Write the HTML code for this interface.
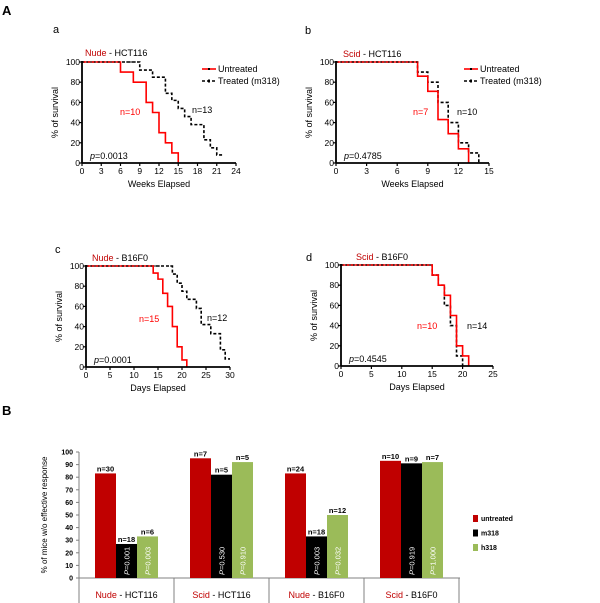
<!DOCTYPE html>
<html><head><meta charset="utf-8">
<style>
body{margin:0;background:#fff;}
svg{display:block;font-family:"Liberation Sans",sans-serif;}
</style></head>
<body>
<svg id="fig" width="600" height="603" viewBox="0 0 600 603">
<text x="2" y="15" font-size="13" font-weight="bold">A</text>
<text x="2" y="415" font-size="13" font-weight="bold">B</text>
<g id="surv"></g>
<g id="bars"></g>
</svg>
<script>
// ---- survival data ----
const aRedX=[0,6,8,10,11,12,13,14,15];
const aRedY=[100,90,80,60,50,30,20,10,0];
const aBlkX=[0,9,11,13,14,15,16,17,19,20,21,22];
const aBlkY=[100,92,85,69,62,54,46,38,23,15,8,8];
const bRedX=[0,8,9,10,11,12,13];
const bRedY=[100,86,71,43,29,14,0];
const bBlkX=[0,8,9,10,11,12,13,14];
const bBlkY=[100,90,80,60,40,20,10,0];
const cRedX=[0,14,15,16,17,18,19,20,21];
const cRedY=[100,93,87,73,60,40,20,7,0];
const cBlkX=[0,18,19,20,21,23,24,26,28,29,30];
const cBlkY=[100,92,83,75,67,58,42,33,17,8,8];
const dRedX=[0,15,16,17,18,19,20,21];
const dRedY=[100,90,80,70,50,20,10,0];
const dBlkX=[0,15,16,17,18,19,20];
const dBlkY=[100,90,80,60,40,10,0];
const aTicks=[0,3,6,9,12,15,18,21,24];
const bTicks=[0,3,6,9,12,15];
const cTicks=[0,5,10,15,20,25,30];
const dTicks=[0,5,10,15,20,25];
const yTicks=[0,20,40,60,80,100];
// ---- bar data ----
const groups=["HCT116","HCT116","B16F0","B16F0"];
const hosts=["Nude","Scid","Nude","Scid"];
const untreated=[83,95,83,93];
const m318=[27,82,33,91];
const h318=[33,92,50,92];
const nUnt=["n=30","n=7","n=24","n=10"];
const nM=["n=18","n=5","n=18","n=9"];
const nH=["n=6","n=5","n=12","n=7"];
const pM=["0.001","0.530","0.003","0.919"];
const pH=["0.003","0.910","0.032","1.000"];
const barTicks=[0,10,20,30,40,50,60,70,80,90,100];

const NS="http://www.w3.org/2000/svg";
function mk(tag,attrs,parent,txt){const e=document.createElementNS(NS,tag);for(const k in attrs)e.setAttribute(k,attrs[k]);if(txt!==undefined)e.textContent=txt;parent.appendChild(e);return e;}

const surv=document.getElementById('surv');
function panel(o){
  const g=mk('g',{},surv);
  
  
  const sx=v=>o.x0+(o.x1-o.x0)*v/o.xmax;
  const sy=v=>o.y0-(o.y0-o.y100)*v/100;
  function step(xs,ys,endX){let d='M'+sx(xs[0])+','+sy(ys[0]);for(let i=1;i<xs.length;i++){d+=' H'+sx(xs[i])+' V'+sy(ys[i]);}return d;}
  const bl=mk('path',{d:step(o.bx,o.by),fill:'none',stroke:'#000','stroke-width':1.6,'stroke-dasharray':'3,2'},g);
  
  
  const rl=mk('path',{d:step(o.rx,o.ry),fill:'none',stroke:'#f00','stroke-width':1.6},g);
  
  
  // redraw top dashed overlay
  mk('path',{d:'M'+sx(0)+','+sy(100)+' H'+sx(o.top),fill:'none',stroke:'#000','stroke-width':1,'stroke-dasharray':'2,2'},g);
  // axes
  mk('line',{x1:o.x0,y1:o.y100-1,x2:o.x0,y2:o.y0,stroke:'#000','stroke-width':1.8},g);
  mk('line',{x1:o.x0,y1:o.y0,x2:o.x1,y2:o.y0,stroke:'#000','stroke-width':1.8},g);
  o.ticks.forEach(t=>{mk('line',{x1:sx(t),y1:o.y0,x2:sx(t),y2:o.y0+3,stroke:'#000','stroke-width':1.2},g);
    const tl=mk('text',{x:sx(t),y:o.y0+11,'font-size':8.5,'text-anchor':'middle'},g,t);
    
    });
  yTicks.forEach(t=>{mk('line',{x1:o.x0-3,y1:sy(t),x2:o.x0,y2:sy(t),stroke:'#000','stroke-width':1.2},g);
    const tl=mk('text',{x:o.x0-2,y:sy(t)+3,'font-size':8.5,'text-anchor':'end'},g,t);
    
    });
  const xl=mk('text',{x:(o.x0+o.x1)/2,y:o.y0+24,'font-size':9,'text-anchor':'middle'},g,o.xlab);
  
  
  const yx=o.x0-24, yy=(o.y0+o.y100)/2;
  const yl=mk('text',{x:yx,y:yy,'font-size':9,'text-anchor':'middle',transform:'rotate(-90 '+yx+' '+yy+')'},g,'% of survival');
  
  
  const ti=mk('text',{x:o.tx,y:o.ty,'font-size':9},g);
  
  
  mk('tspan',{fill:'#c00000'},ti,o.host);mk('tspan',{},ti,' - '+o.line);
  const pl=mk('text',{x:o.lx,y:o.ly,'font-size':11},g,o.id);
  
  
  const n1=mk('text',{x:o.nrx,y:o.nry,'font-size':9,fill:'#f00'},g,o.nr);
  
  
  const n2=mk('text',{x:o.nbx,y:o.nby,'font-size':9},g,o.nb);
  
  
  const pv=mk('text',{x:o.x0+8,y:o.y0-4,'font-size':9},g);
  
  
  mk('tspan',{'font-style':'italic'},pv,'p');mk('tspan',{},pv,'='+o.p);
  if(o.legX){
    const lg=mk('g',{},g);
    
    
    mk('line',{x1:o.legX,y1:69,x2:o.legX+14,y2:69,stroke:'#f00','stroke-width':1.6},lg);
    mk('rect',{x:o.legX+6,y:68,width:2,height:2,fill:'#000'},lg);
    mk('text',{x:o.legX+16,y:72,'font-size':9},lg,'Untreated');
    mk('line',{x1:o.legX,y1:81,x2:o.legX+14,y2:81,stroke:'#000','stroke-width':1.6,'stroke-dasharray':'3,2'},lg);
    mk('rect',{x:o.legX+6,y:79.5,width:2,height:3,fill:'#000'},lg);
    mk('text',{x:o.legX+16,y:84,'font-size':9},lg,'Treated (m318)');
  }
}
panel({id:'a',x0:82,x1:236,y0:163,y100:62,xmax:24,ticks:aTicks,rx:aRedX,ry:aRedY,bx:aBlkX,by:aBlkY,top:9,xlab:'Weeks Elapsed',host:'Nude',line:'HCT116',tx:85,ty:56,lx:53,ly:33,nr:'n=10',nrx:120,nry:115,nb:'n=13',nbx:192,nby:113,p:'0.0013',legX:202});
panel({id:'b',x0:336,x1:489,y0:163,y100:62,xmax:15,ticks:bTicks,rx:bRedX,ry:bRedY,bx:bBlkX,by:bBlkY,top:8,xlab:'Weeks Elapsed',host:'Scid',line:'HCT116',tx:343,ty:57,lx:305,ly:34,nr:'n=7',nrx:413,nry:115,nb:'n=10',nbx:457,nby:115,p:'0.4785',legX:464});
panel({id:'c',x0:86,x1:230,y0:367,y100:266,xmax:30,ticks:cTicks,rx:cRedX,ry:cRedY,bx:cBlkX,by:cBlkY,top:18,xlab:'Days Elapsed',host:'Nude',line:'B16F0',tx:92,ty:261,lx:55,ly:253,nr:'n=15',nrx:139,nry:322,nb:'n=12',nbx:207,nby:321,p:'0.0001'});
panel({id:'d',x0:341,x1:493,y0:366,y100:265,xmax:25,ticks:dTicks,rx:dRedX,ry:dRedY,bx:dBlkX,by:dBlkY,top:15,xlab:'Days Elapsed',host:'Scid',line:'B16F0',tx:356,ty:260,lx:306,ly:261,nr:'n=10',nrx:417,nry:329,nb:'n=14',nbx:467,nby:329,p:'0.4545'});

// ---- bar chart ----
const bg=document.getElementById('bars');
const bx0=79, by0=578, by100=452, gw=95, bw=21;
const bsy=v=>by0-(by0-by100)*v/100;
const gx=i=>bx0+16+gw*i;
mk('line',{x1:bx0,y1:by100,x2:bx0,y2:603,stroke:'#808080','stroke-width':1},bg);
mk('line',{x1:bx0,y1:by0,x2:bx0+gw*4+1,y2:by0,stroke:'#808080','stroke-width':1},bg);
for(let i=1;i<=4;i++)mk('line',{x1:bx0+gw*i,y1:by0,x2:bx0+gw*i,y2:603,stroke:'#808080','stroke-width':1},bg);
barTicks.forEach(t=>{mk('line',{x1:bx0-3,y1:bsy(t),x2:bx0,y2:bsy(t),stroke:'#808080'},bg);
  const tl=mk('text',{x:bx0-6,y:bsy(t)+2.5,'font-size':7,'font-weight':'bold','text-anchor':'end'},bg,t);
  
  });
const yl=mk('text',{x:47,y:515,'font-size':8,'text-anchor':'middle',transform:'rotate(-90 47 515)'},bg,'% of mice w/o effective response');


const series=[[untreated,'#c00000',nUnt,null],[m318,'#000',nM,pM],[h318,'#9bbb59',nH,pH]];
for(let i=0;i<4;i++){
  series.forEach((s,j)=>{
    const v=s[0][i], x=gx(i)+j*bw;
    const r=mk('rect',{x:x,y:bsy(v),width:bw,height:by0-bsy(v),fill:s[1]},bg);
    
    
    const n=mk('text',{x:x+bw/2,y:bsy(v)-2,'font-size':7.5,'font-weight':'bold','text-anchor':'middle'},bg,s[2][i]);
    
    
    if(s[3]){const px=x+bw/2+3, py=by0-3;
      const p=mk('text',{x:px,y:py,'font-size':7.5,fill:'#fff',transform:'rotate(-90 '+px+' '+py+')'},bg);
      
      
      mk('tspan',{'font-style':'italic'},p,'P');mk('tspan',{},p,'='+s[3][i]);}
  });
  const gl=mk('text',{x:bx0+gw*i+gw/2,y:598,'font-size':9,'text-anchor':'middle'},bg);
  
  
  mk('tspan',{fill:'#c00000'},gl,hosts[i]);mk('tspan',{},gl,' - '+groups[i]);
}
const legNames=['untreated','m318','h318'];
series.forEach((s,j)=>{
  const y=515+j*14.5;
  const r=mk('rect',{x:473,y:y,width:5,height:7,fill:s[1]},bg);
  
  
  const t=mk('text',{x:481,y:y+6,'font-size':7,'font-weight':'bold'},bg,legNames[j]);
  
  
});
</script>
</body></html>
